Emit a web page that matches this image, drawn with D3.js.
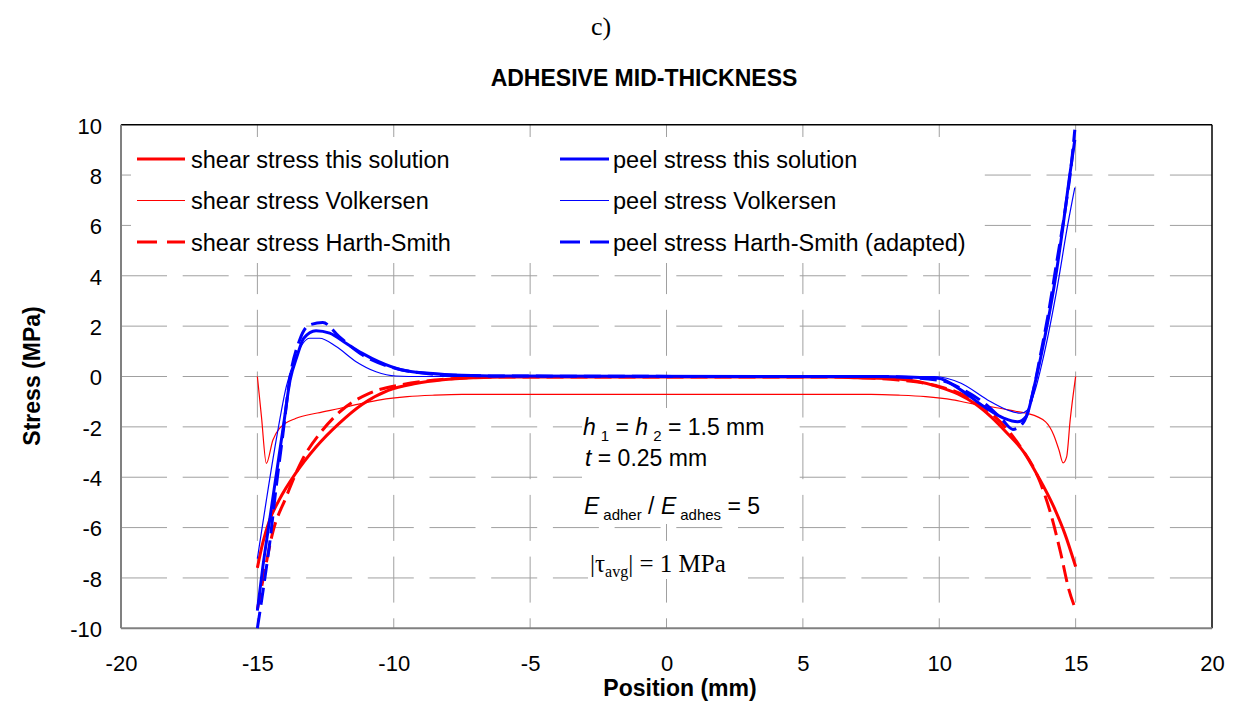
<!DOCTYPE html>
<html><head><meta charset="utf-8">
<script src="https://cdn.jsdelivr.net/npm/d3@7"></script>
<style>body{margin:0;background:#fff}svg{display:block}</style></head>
<body><svg id="chart" width="1236" height="704"></svg>
<script>
// ---------- data ----------
const xTicks = [-20, -15, -10, -5, 0, 5, 10, 15, 20];
const yTicks = [-10, -8, -6, -4, -2, 0, 2, 4, 6, 8, 10];

const shearThisX = [-15, -14.8, -14.55, -14.2, -13.6, -12.85, -12, -11.15, -10.2, -9.2, -8.2, -7, -6, 6, 7, 8.5, 9.95, 10.7, 11.3, 11.9, 12.5, 13.1, 13.6, 14.2, 14.6, 15];
const shearThisY = [-7.6, -6.6, -5.7, -4.9, -3.85, -2.8, -1.86, -1.1, -0.55, -0.28, -0.13, -0.05, -0.02, -0.02, -0.05, -0.1, -0.4, -0.7, -1.07, -1.6, -2.26, -3.0, -3.92, -5.18, -6.23, -7.55];

const shearVolkX = [-15, -14.85, -14.67, -14.43, -14.19, -13.58, -12.8, -12, -11.2, -10.5, -9.5, -8.5, -7.5, 7.5, 8.5, 9.5, 10.5, 11.2, 12, 12.8, 13.2, 13.9, 14.2, 14.39, 14.54, 14.67, 14.8, 15];
const shearVolkY = [0, -1.6, -3.45, -2.52, -2.06, -1.66, -1.45, -1.27, -1.08, -0.93, -0.8, -0.74, -0.71, -0.71, -0.74, -0.8, -0.93, -1.08, -1.22, -1.38, -1.46, -1.8, -2.33, -2.92, -3.43, -3.19, -1.73, 0];

const shearHSX = [-15, -14.7, -14.45, -13.95, -13.35, -12.7, -11.9, -10.9, -9.7, -8.5, -7.2, -6, 6, 7.2, 8.5, 9.7, 11.0, 11.9, 12.85, 13.7, 14.1, 14.45, 14.75, 15];
const shearHSY = [-9.25, -7.55, -6.25, -4.8, -3.3, -2.25, -1.33, -0.67, -0.32, -0.14, -0.05, -0.02, -0.02, -0.05, -0.14, -0.32, -0.8, -1.45, -2.6, -4.2, -5.5, -7.0, -8.45, -9.25];

const peelThisX = [-15, -14.8, -14.55, -14.3, -14.05, -13.8, -13.55, -13.3, -12.85, -12.35, -11.75, -11.15, -10.55, -9.7, -8.7, -7.5, -6, 6, 7.75, 9.95, 10.8, 11.65, 12.38, 12.87, 13.18, 13.48, 13.85, 14.21, 14.52, 14.76, 14.97];
const peelThisY = [-9.3, -7.56, -5.7, -3.85, -2.0, -0.14, 0.79, 1.52, 1.82, 1.72, 1.32, 0.92, 0.59, 0.26, 0.13, 0.05, 0.02, 0.0, 0.0, -0.07, -0.54, -1.2, -1.66, -1.8, -1.6, -0.4, 1.45, 3.57, 5.83, 7.81, 9.4];

const peelVolkX = [-15, -14.67, -14.31, -13.94, -13.58, -13.09, -12.72, -12.11, -11.38, -10.65, -9.92, -9, 9, 9.82, 10.8, 11.77, 12.5, 12.99, 13.24, 13.48, 13.85, 14.33, 14.7, 14.97];
const peelVolkY = [-7.23, -4.91, -2.52, -0.4, 0.79, 1.52, 1.52, 1.19, 0.59, 0.19, 0.02, 0, 0, 0, -0.27, -0.93, -1.33, -1.46, -1.33, -0.67, 0.92, 3.57, 5.96, 7.5];

const peelHSX = [-15, -14.79, -14.55, -14.31, -14.06, -13.82, -13.45, -13.09, -12.6, -12, -11.14, -10.16, -9.2, -8, -6, 6, 7.75, 10, 11, 11.7, 12.3, 12.7, 13.1, 13.4, 13.7, 14.0, 14.3, 14.6, 14.85, 14.97];
const peelHSY = [-10, -8.49, -6.63, -4.38, -2.26, -0.14, 1.45, 2.05, 2.14, 1.58, 0.85, 0.39, 0.17, 0.06, 0.02, 0, 0, -0.15, -0.6, -1.1, -1.7, -2.1, -1.8, -0.8, 0.8, 2.5, 4.5, 6.5, 8.5, 9.8];

const seriesNames = ["shear stress this solution", "shear stress Volkersen", "shear stress Harth-Smith",
                     "peel stress this solution", "peel stress Volkersen", "peel stress Harth-Smith (adapted)"];

// ---------- layout ----------
const W = 1236, H = 704;
const pLeft = 121, pRight = 1212, pTop = 124.7, pBottom = 628.3;
const svg = d3.select("#chart");
const x = d3.scaleLinear().domain([-20, 20]).range([pLeft, pRight]);
const y = d3.scaleLinear().domain([-10, 10]).range([pBottom, pTop]);

const RED = "#ff0000", BLUE = "#0000ff";
const styles = [
  {c: RED, w: 3, d: null},
  {c: RED, w: 1.2, d: null},
  {c: RED, w: 3, d: "17,7"},
  {c: BLUE, w: 3, d: null},
  {c: BLUE, w: 1.2, d: null},
  {c: BLUE, w: 3, d: "17,7"}
];
const seriesData = [
  d3.zip(shearThisX, shearThisY),
  d3.zip(shearVolkX, shearVolkY),
  d3.zip(shearHSX, shearHSY),
  d3.zip(peelThisX, peelThisY),
  d3.zip(peelVolkX, peelVolkY),
  d3.zip(peelHSX, peelHSY)
];

// background
svg.append("rect").attr("width", W).attr("height", H).attr("fill", "#fff");

// gridlines
const grid = svg.append("g");
xTicks.filter(t => t > -20 && t < 20).forEach(t => {
  grid.append("line").attr("x1", x(t)).attr("x2", x(t)).attr("y1", pTop).attr("y2", pBottom)
    .attr("stroke", "#a0a0a0").attr("stroke-width", 1).attr("stroke-dasharray", "46,15.7");
});
yTicks.filter(t => t > -10 && t < 10).forEach(t => {
  grid.append("line").attr("x1", pLeft).attr("x2", pRight).attr("y1", y(t)).attr("y2", y(t))
    .attr("stroke", "#a0a0a0").attr("stroke-width", 1).attr("stroke-dasharray", "46,15.7");
});

// white boxes behind legend and annotations
svg.append("rect").attr("x", 131).attr("y", 137).attr("width", 851).attr("height", 126).attr("fill", "#fff");
svg.append("rect").attr("x", 582).attr("y", 408).attr("width", 205).attr("height", 76).attr("fill", "#fff");
svg.append("rect").attr("x", 582).attr("y", 487).attr("width", 190).attr("height", 37).attr("fill", "#fff");
svg.append("rect").attr("x", 588).attr("y", 548).attr("width", 160).attr("height", 31).attr("fill", "#fff");

// frame
svg.append("line").attr("x1", pLeft).attr("x2", pRight).attr("y1", pTop).attr("y2", pTop).attr("stroke", "#000").attr("stroke-width", 1.5);
svg.append("line").attr("x1", pRight).attr("x2", pRight).attr("y1", pTop).attr("y2", pBottom).attr("stroke", "#000").attr("stroke-width", 1.5);

// axes
const fontSans = "'Liberation Sans', Arial, sans-serif";
const fmt = d => String(d);
const yAxis = svg.append("g").attr("transform", `translate(${pLeft},0)`)
  .call(d3.axisLeft(y).tickValues(yTicks).tickSize(0).tickPadding(19).tickFormat(fmt));
yAxis.select(".domain").remove();
yAxis.selectAll("text").attr("font-family", fontSans).attr("font-size", 22).attr("fill", "#000").attr("dy", "0.38em");

const xAxis = svg.append("g").attr("transform", `translate(0,${pBottom})`)
  .call(d3.axisBottom(x).tickValues(xTicks).tickSize(0).tickPadding(27).tickFormat(fmt));
xAxis.select(".domain").remove();
xAxis.selectAll("text").attr("font-family", fontSans).attr("font-size", 22).attr("fill", "#000");

svg.append("line").attr("x1", pLeft).attr("x2", pLeft).attr("y1", pTop).attr("y2", pBottom).attr("stroke", "#808080").attr("stroke-width", 2);
svg.append("line").attr("x1", pLeft).attr("x2", pRight).attr("y1", pBottom).attr("y2", pBottom).attr("stroke", "#808080").attr("stroke-width", 2);

// annotations
const ann = svg.append("g").attr("font-family", fontSans).attr("font-size", 23).attr("fill", "#000");
const t1 = ann.append("text").attr("x", 583).attr("y", 435);
t1.append("tspan").attr("font-style", "italic").text("h");
t1.append("tspan").attr("font-size", 15).attr("dx", 5).attr("dy", 6).text("1");
t1.append("tspan").attr("dy", -6).text(" = ");
t1.append("tspan").attr("font-style", "italic").text("h");
t1.append("tspan").attr("font-size", 15).attr("dx", 5).attr("dy", 6).text("2");
t1.append("tspan").attr("dy", -6).text(" = 1.5 mm");
const t2 = ann.append("text").attr("x", 585).attr("y", 466);
t2.append("tspan").attr("font-style", "italic").text("t");
t2.append("tspan").text(" = 0.25 mm");
const t3 = ann.append("text").attr("x", 584).attr("y", 514);
t3.append("tspan").attr("font-style", "italic").text("E");
t3.append("tspan").attr("font-size", 15).attr("dx", 4).attr("dy", 6).text("adher");
t3.append("tspan").attr("dy", -6).text(" / ");
t3.append("tspan").attr("font-style", "italic").text("E");
t3.append("tspan").attr("font-size", 15).attr("dx", 4).attr("dy", 6).text("adhes");
t3.append("tspan").attr("dy", -6).text(" = 5");
const t4 = svg.append("text").attr("x", 590).attr("y", 572)
  .attr("font-family", "'Liberation Serif', 'Times New Roman', serif").attr("font-size", 25).attr("fill", "#000");
t4.append("tspan").text("|τ");
t4.append("tspan").attr("font-size", 16).attr("dy", 5).text("avg");
t4.append("tspan").attr("dy", -5).text("| = 1 MPa");

// series
const line = d3.line().x(d => x(d[0])).y(d => y(d[1])).curve(d3.curveMonotoneX);
svg.append("defs").append("clipPath").attr("id", "clip").append("rect")
  .attr("x", pLeft).attr("y", pTop - 2).attr("width", pRight - pLeft).attr("height", pBottom - pTop + 4);
const plot = svg.append("g").attr("clip-path", "url(#clip)");
seriesData.forEach((d, i) => {
  const s = styles[i];
  plot.append("path").datum(d).attr("d", line).attr("fill", "none")
    .attr("stroke", s.c).attr("stroke-width", s.w)
    .attr("stroke-dasharray", s.d).attr("stroke-linejoin", "round");
});

// legend
const leg = svg.append("g").attr("font-family", fontSans).attr("font-size", 23.5).attr("fill", "#000");
const legCols = [{lx1: 137, lx2: 185, tx: 191}, {lx1: 560, lx2: 609, tx: 613}];
const legRows = [167.5, 209, 250.5];
seriesNames.forEach((name, i) => {
  const col = legCols[Math.floor(i / 3)], row = legRows[i % 3], s = styles[i];
  leg.append("line").attr("x1", col.lx1).attr("x2", col.lx2).attr("y1", row - 8.5).attr("y2", row - 8.5)
    .attr("stroke", s.c).attr("stroke-width", s.w).attr("stroke-dasharray", s.d ? "20,10" : null);
  leg.append("text").attr("x", col.tx).attr("y", row).text(name);
});

// titles
svg.append("text").attr("x", 601).attr("y", 35).attr("text-anchor", "middle")
  .attr("font-family", "'Liberation Serif', 'Times New Roman', serif").attr("font-size", 26).text("c)");
svg.append("text").attr("x", 644).attr("y", 86).attr("text-anchor", "middle")
  .attr("font-family", fontSans).attr("font-weight", "bold").attr("font-size", 23).text("ADHESIVE MID-THICKNESS");
svg.append("text").attr("x", 680).attr("y", 696).attr("text-anchor", "middle")
  .attr("font-family", fontSans).attr("font-weight", "bold").attr("font-size", 23).text("Position (mm)");
svg.append("text").attr("transform", "translate(40,376) rotate(-90)").attr("text-anchor", "middle")
  .attr("font-family", fontSans).attr("font-weight", "bold").attr("font-size", 23).text("Stress (MPa)");
</script>
</body></html>
